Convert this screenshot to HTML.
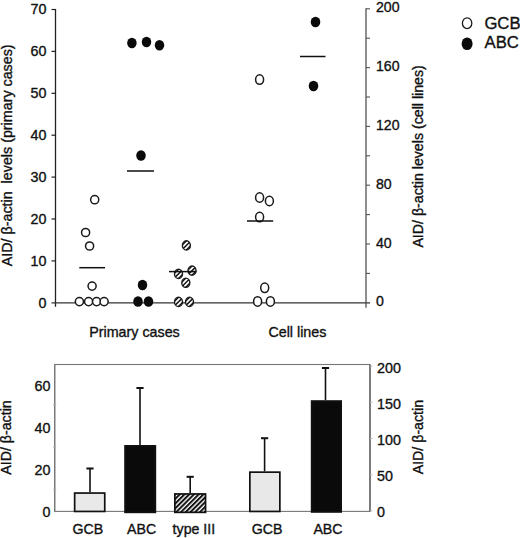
<!DOCTYPE html>
<html><head><meta charset="utf-8"><title>Figure</title>
<style>html,body{margin:0;padding:0;background:#fff}svg{display:block}text{font-family:"Liberation Sans", Arial, Helvetica, sans-serif;fill:#111;stroke:#111;stroke-width:0.35px}</style>
</head><body>
<svg width="520" height="538" viewBox="0 0 520 538">
<defs><pattern id="h" width="3" height="3" patternUnits="userSpaceOnUse" patternTransform="rotate(-45)"><rect width="3" height="3" fill="#fff"/><rect width="3" height="1.5" fill="#111"/></pattern>
<pattern id="h2" width="3.35" height="3.35" patternUnits="userSpaceOnUse" patternTransform="rotate(-45)"><rect width="3.35" height="3.35" fill="#fff"/><rect width="3.35" height="2" fill="#111"/></pattern><clipPath id="hc"><ellipse rx="4.0" ry="4.6"/></clipPath></defs>
<rect width="520" height="538" fill="#fff"/>
<line x1="55.5" y1="9.0" x2="55.5" y2="306.8" stroke="#222" stroke-width="1.3"/>
<line x1="51.5" y1="302.8" x2="370" y2="302.8" stroke="#333" stroke-width="1.2"/>
<text x="46.4" y="308.4" font-size="14.3" text-anchor="end">0</text>
<line x1="51.5" y1="260.9" x2="55.5" y2="260.9" stroke="#222" stroke-width="1.2"/>
<text x="46.4" y="266.3" font-size="14.3" text-anchor="end">10</text>
<line x1="51.5" y1="219.0" x2="55.5" y2="219.0" stroke="#222" stroke-width="1.2"/>
<text x="46.4" y="224.2" font-size="14.3" text-anchor="end">20</text>
<line x1="51.5" y1="177.1" x2="55.5" y2="177.1" stroke="#222" stroke-width="1.2"/>
<text x="46.4" y="182.2" font-size="14.3" text-anchor="end">30</text>
<line x1="51.5" y1="135.2" x2="55.5" y2="135.2" stroke="#222" stroke-width="1.2"/>
<text x="46.4" y="140.1" font-size="14.3" text-anchor="end">40</text>
<line x1="51.5" y1="93.3" x2="55.5" y2="93.3" stroke="#222" stroke-width="1.2"/>
<text x="46.4" y="98.0" font-size="14.3" text-anchor="end">50</text>
<line x1="51.5" y1="51.4" x2="55.5" y2="51.4" stroke="#222" stroke-width="1.2"/>
<text x="46.4" y="55.9" font-size="14.3" text-anchor="end">60</text>
<line x1="51.5" y1="9.5" x2="55.5" y2="9.5" stroke="#222" stroke-width="1.2"/>
<text x="46.4" y="13.8" font-size="14.3" text-anchor="end">70</text>
<line x1="366" y1="8.2" x2="366" y2="307.8" stroke="#444" stroke-width="1.2"/>
<text x="376" y="306.4" font-size="14.1">0</text>
<line x1="366" y1="273.4" x2="370" y2="273.4" stroke="#555" stroke-width="1.1"/>
<line x1="366" y1="244.0" x2="370" y2="244.0" stroke="#555" stroke-width="1.1"/>
<text x="376" y="247.6" font-size="14.1">40</text>
<line x1="366" y1="214.6" x2="370" y2="214.6" stroke="#555" stroke-width="1.1"/>
<line x1="366" y1="185.2" x2="370" y2="185.2" stroke="#555" stroke-width="1.1"/>
<text x="376" y="188.8" font-size="14.1">80</text>
<line x1="366" y1="155.8" x2="370" y2="155.8" stroke="#555" stroke-width="1.1"/>
<line x1="366" y1="126.4" x2="370" y2="126.4" stroke="#555" stroke-width="1.1"/>
<text x="376" y="130.0" font-size="14.1">120</text>
<line x1="366" y1="97.0" x2="370" y2="97.0" stroke="#555" stroke-width="1.1"/>
<line x1="366" y1="67.6" x2="370" y2="67.6" stroke="#555" stroke-width="1.1"/>
<text x="376" y="71.2" font-size="14.1">160</text>
<line x1="366" y1="38.2" x2="370" y2="38.2" stroke="#555" stroke-width="1.1"/>
<line x1="366" y1="8.8" x2="370" y2="8.8" stroke="#555" stroke-width="1.1"/>
<text x="376" y="12.4" font-size="14.1">200</text>
<text transform="translate(11.6,266.3) rotate(-90)" font-size="14.3" xml:space="preserve">AID/ β-actin  levels (primary cases)</text>
<text transform="translate(422.7,247.6) rotate(-90)" font-size="14.2" xml:space="preserve">AID/ β-actin levels (cell lines)</text>
<text x="134.5" y="336.6" font-size="14.3" text-anchor="middle">Primary cases</text>
<text x="297.4" y="336.6" font-size="14.3" text-anchor="middle">Cell lines</text>
<ellipse cx="94.7" cy="199.7" rx="4.05" ry="4.1" fill="#fff" stroke="#1a1a1a" stroke-width="1.5"/>
<ellipse cx="85.6" cy="232.5" rx="4.05" ry="4.1" fill="#fff" stroke="#1a1a1a" stroke-width="1.5"/>
<ellipse cx="89.6" cy="246" rx="4.05" ry="4.1" fill="#fff" stroke="#1a1a1a" stroke-width="1.5"/>
<ellipse cx="92.1" cy="286.1" rx="4.05" ry="4.1" fill="#fff" stroke="#1a1a1a" stroke-width="1.5"/>
<ellipse cx="79.4" cy="301.6" rx="4.05" ry="4.1" fill="#fff" stroke="#1a1a1a" stroke-width="1.5"/>
<ellipse cx="88.6" cy="301.6" rx="4.05" ry="4.1" fill="#fff" stroke="#1a1a1a" stroke-width="1.5"/>
<ellipse cx="96.6" cy="301.6" rx="4.05" ry="4.1" fill="#fff" stroke="#1a1a1a" stroke-width="1.5"/>
<ellipse cx="104.1" cy="301.6" rx="4.05" ry="4.1" fill="#fff" stroke="#1a1a1a" stroke-width="1.5"/>
<line x1="79.3" y1="267.7" x2="105" y2="267.7" stroke="#111" stroke-width="1.5"/>
<ellipse cx="131.9" cy="43" rx="4.75" ry="5.3" fill="#0a0a0a"/>
<ellipse cx="146.5" cy="42" rx="4.75" ry="5.3" fill="#0a0a0a"/>
<ellipse cx="159.5" cy="45.2" rx="4.75" ry="5.3" fill="#0a0a0a"/>
<ellipse cx="141" cy="155.5" rx="4.75" ry="5.3" fill="#0a0a0a"/>
<ellipse cx="142.5" cy="285" rx="4.75" ry="5.3" fill="#0a0a0a"/>
<ellipse cx="138" cy="301.5" rx="4.75" ry="5.3" fill="#0a0a0a"/>
<ellipse cx="148.5" cy="301.5" rx="4.75" ry="5.3" fill="#0a0a0a"/>
<line x1="127" y1="171" x2="154" y2="171" stroke="#111" stroke-width="1.5"/>
<g transform="translate(186.4,245.4)"><ellipse rx="4.0" ry="4.6" fill="#fff"/><g clip-path="url(#hc)" stroke="#111" stroke-width="1.45"><line x1="-8" y1="8" x2="8" y2="-8"/><line x1="-5.7" y1="10.3" x2="10.3" y2="-5.7"/><line x1="-10.3" y1="5.7" x2="5.7" y2="-10.3"/></g><ellipse rx="4.0" ry="4.6" fill="none" stroke="#1a1a1a" stroke-width="1.4"/></g>
<g transform="translate(178.5,273.9)"><ellipse rx="4.0" ry="4.6" fill="#fff"/><g clip-path="url(#hc)" stroke="#111" stroke-width="1.45"><line x1="-8" y1="8" x2="8" y2="-8"/><line x1="-5.7" y1="10.3" x2="10.3" y2="-5.7"/><line x1="-10.3" y1="5.7" x2="5.7" y2="-10.3"/></g><ellipse rx="4.0" ry="4.6" fill="none" stroke="#1a1a1a" stroke-width="1.4"/></g>
<g transform="translate(192,270.6)"><ellipse rx="4.0" ry="4.6" fill="#fff"/><g clip-path="url(#hc)" stroke="#111" stroke-width="1.45"><line x1="-8" y1="8" x2="8" y2="-8"/><line x1="-5.7" y1="10.3" x2="10.3" y2="-5.7"/><line x1="-10.3" y1="5.7" x2="5.7" y2="-10.3"/></g><ellipse rx="4.0" ry="4.6" fill="none" stroke="#1a1a1a" stroke-width="1.4"/></g>
<g transform="translate(185.8,282.7)"><ellipse rx="4.0" ry="4.6" fill="#fff"/><g clip-path="url(#hc)" stroke="#111" stroke-width="1.45"><line x1="-8" y1="8" x2="8" y2="-8"/><line x1="-5.7" y1="10.3" x2="10.3" y2="-5.7"/><line x1="-10.3" y1="5.7" x2="5.7" y2="-10.3"/></g><ellipse rx="4.0" ry="4.6" fill="none" stroke="#1a1a1a" stroke-width="1.4"/></g>
<g transform="translate(178.5,301.9)"><ellipse rx="4.0" ry="4.6" fill="#fff"/><g clip-path="url(#hc)" stroke="#111" stroke-width="1.45"><line x1="-8" y1="8" x2="8" y2="-8"/><line x1="-5.7" y1="10.3" x2="10.3" y2="-5.7"/><line x1="-10.3" y1="5.7" x2="5.7" y2="-10.3"/></g><ellipse rx="4.0" ry="4.6" fill="none" stroke="#1a1a1a" stroke-width="1.4"/></g>
<g transform="translate(189.5,301.9)"><ellipse rx="4.0" ry="4.6" fill="#fff"/><g clip-path="url(#hc)" stroke="#111" stroke-width="1.45"><line x1="-8" y1="8" x2="8" y2="-8"/><line x1="-5.7" y1="10.3" x2="10.3" y2="-5.7"/><line x1="-10.3" y1="5.7" x2="5.7" y2="-10.3"/></g><ellipse rx="4.0" ry="4.6" fill="none" stroke="#1a1a1a" stroke-width="1.4"/></g>
<line x1="169" y1="271.6" x2="196.5" y2="271.6" stroke="#111" stroke-width="1.5"/>
<ellipse cx="259.6" cy="79.6" rx="4.0" ry="4.75" fill="#fff" stroke="#1a1a1a" stroke-width="1.5"/>
<ellipse cx="259.6" cy="197.5" rx="4.0" ry="4.75" fill="#fff" stroke="#1a1a1a" stroke-width="1.5"/>
<ellipse cx="269.4" cy="201" rx="4.0" ry="4.75" fill="#fff" stroke="#1a1a1a" stroke-width="1.5"/>
<ellipse cx="259.6" cy="217.1" rx="4.0" ry="4.75" fill="#fff" stroke="#1a1a1a" stroke-width="1.5"/>
<ellipse cx="264.7" cy="287.8" rx="4.0" ry="4.75" fill="#fff" stroke="#1a1a1a" stroke-width="1.5"/>
<ellipse cx="257.6" cy="301.4" rx="4.0" ry="4.75" fill="#fff" stroke="#1a1a1a" stroke-width="1.5"/>
<ellipse cx="270.4" cy="301.4" rx="4.0" ry="4.75" fill="#fff" stroke="#1a1a1a" stroke-width="1.5"/>
<line x1="247" y1="221" x2="273.2" y2="221" stroke="#111" stroke-width="1.5"/>
<ellipse cx="315.5" cy="22" rx="4.8" ry="5.2" fill="#0a0a0a"/>
<ellipse cx="313.5" cy="86" rx="4.8" ry="5.2" fill="#0a0a0a"/>
<line x1="300" y1="56.5" x2="325.5" y2="56.5" stroke="#111" stroke-width="1.5"/>
<ellipse cx="467.1" cy="23.2" rx="4.7" ry="5.4" fill="#fff" stroke="#1a1a1a" stroke-width="1.3"/>
<ellipse cx="467.1" cy="43.7" rx="5.5" ry="6.3" fill="#0a0a0a"/>
<text x="484.4" y="29.1" font-size="16.7">GCB</text>
<text x="484.6" y="47.9" font-size="16.7">ABC</text>
<rect x="54.7" y="364.5" width="315.3" height="146.89999999999998" fill="none" stroke="#777" stroke-width="1.1"/>
<line x1="370" y1="364.5" x2="370" y2="511.4" stroke="#555" stroke-width="1.2"/>
<line x1="54.7" y1="364.5" x2="54.7" y2="511.4" stroke="#777" stroke-width="1.2"/>
<text x="50.5" y="517.0" font-size="14.3" text-anchor="end">0</text>
<text x="50.5" y="475.1" font-size="14.3" text-anchor="end">20</text>
<text x="50.5" y="433.2" font-size="14.3" text-anchor="end">40</text>
<text x="50.5" y="391.3" font-size="14.3" text-anchor="end">60</text>
<line x1="53.2" y1="489.4" x2="56.2" y2="489.4" stroke="#aaa" stroke-width="1"/>
<line x1="53.2" y1="447.1" x2="56.2" y2="447.1" stroke="#aaa" stroke-width="1"/>
<line x1="53.2" y1="404.8" x2="56.2" y2="404.8" stroke="#aaa" stroke-width="1"/>
<line x1="370" y1="510.8" x2="372.5" y2="510.8" stroke="#bbb" stroke-width="1"/>
<text x="377" y="517.1" font-size="14.3">0</text>
<line x1="370" y1="474.7" x2="372.5" y2="474.7" stroke="#bbb" stroke-width="1"/>
<text x="377" y="481.0" font-size="14.3">50</text>
<line x1="370" y1="438.5" x2="372.5" y2="438.5" stroke="#bbb" stroke-width="1"/>
<text x="377" y="444.9" font-size="14.3">100</text>
<line x1="370" y1="402.4" x2="372.5" y2="402.4" stroke="#bbb" stroke-width="1"/>
<text x="377" y="408.8" font-size="14.3">150</text>
<line x1="370" y1="366.2" x2="372.5" y2="366.2" stroke="#bbb" stroke-width="1"/>
<text x="377" y="372.7" font-size="14.3">200</text>
<text transform="translate(11.4,474.7) rotate(-90)" font-size="14.2" xml:space="preserve">AID/ β-actin</text>
<text transform="translate(423.4,474.3) rotate(-90)" font-size="14.2" xml:space="preserve">AID/ β-actin</text>
<line x1="90" y1="468.5" x2="90" y2="492.2" stroke="#111" stroke-width="1.6"/>
<line x1="86.4" y1="468.5" x2="93.6" y2="468.5" stroke="#111" stroke-width="2"/>
<rect x="74.64999999999999" y="493.05" width="30.099999999999998" height="18.399999999999967" fill="#e9e9e9" stroke="#111" stroke-width="1.7"/>
<line x1="140" y1="388" x2="140" y2="445" stroke="#111" stroke-width="1.6"/>
<line x1="136.4" y1="388" x2="143.6" y2="388" stroke="#111" stroke-width="2"/>
<rect x="125.05" y="445.85" width="30.299999999999986" height="66.50000000000004" fill="#0a0a0a" stroke="#111" stroke-width="1.7"/>
<line x1="190.2" y1="476.8" x2="190.2" y2="493.1" stroke="#111" stroke-width="1.6"/>
<line x1="186.6" y1="476.8" x2="193.79999999999998" y2="476.8" stroke="#111" stroke-width="2"/>
<rect x="174.85" y="493.95000000000005" width="30.700000000000006" height="18.400000000000023" fill="url(#h2)" stroke="#111" stroke-width="1.7"/>
<line x1="264.6" y1="438.2" x2="264.6" y2="471.3" stroke="#111" stroke-width="1.6"/>
<line x1="261.0" y1="438.2" x2="268.20000000000005" y2="438.2" stroke="#111" stroke-width="2"/>
<rect x="249.85" y="472.15000000000003" width="29.99999999999999" height="39.29999999999994" fill="#e8e8e8" stroke="#111" stroke-width="1.7"/>
<line x1="325.5" y1="368" x2="325.5" y2="400.2" stroke="#111" stroke-width="1.6"/>
<line x1="321.9" y1="368" x2="329.1" y2="368" stroke="#111" stroke-width="2"/>
<rect x="311.65000000000003" y="401.05" width="29.49999999999999" height="110.89999999999996" fill="#0a0a0a" stroke="#111" stroke-width="1.7"/>
<text x="87.8" y="534.2" font-size="14.2" text-anchor="middle">GCB</text>
<text x="141.7" y="534.2" font-size="14.2" text-anchor="middle">ABC</text>
<text x="193.9" y="534.2" font-size="14.2" text-anchor="middle">type III</text>
<text x="267.1" y="534.2" font-size="14.2" text-anchor="middle">GCB</text>
<text x="328" y="534.2" font-size="14.2" text-anchor="middle">ABC</text>
</svg></body></html>
